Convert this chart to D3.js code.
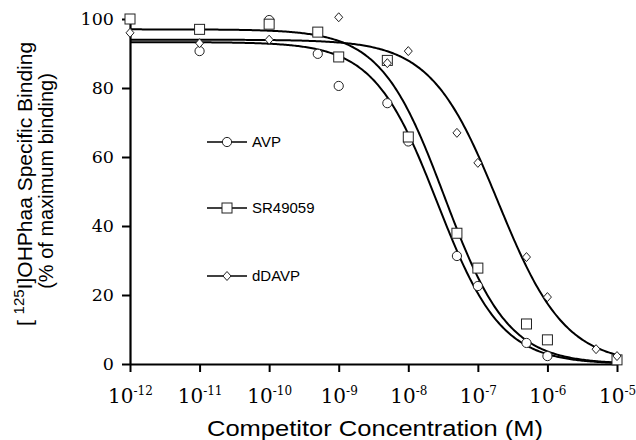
<!DOCTYPE html>
<html>
<head>
<meta charset="utf-8">
<script src="https://cdn.jsdelivr.net/npm/d3@7"></script>
<style>
  body { margin: 0; background: #fff; }
  svg { display: block; }
</style>
</head>
<body>
<svg></svg>
<script>
const width = 636;
const height = 440;
const margin = {top: 19, right: 19, bottom: 76, left: 130};

// competitor concentrations (M) and % of maximum binding
const avpConc = [1e-11, 1e-10, 5e-10, 1e-9, 5e-9, 1e-8, 5e-8, 1e-7, 5e-7, 1e-6];
const avpBinding = [90.7, 99.7, 89.9, 80.6, 75.6, 64.5, 31.3, 22.6, 6.1, 2.3];
const srConc = [1e-12, 1e-11, 1e-10, 5e-10, 1e-9, 5e-9, 1e-8, 5e-8, 1e-7, 5e-7, 1e-6, 1e-5];
const srBinding = [100, 97, 98.5, 96.2, 89, 88, 65.8, 37.9, 27.8, 11.6, 7.0, 1.2];
const ddavpConc = [1e-12, 1e-11, 1e-10, 1e-9, 5e-9, 1e-8, 5e-8, 1e-7, 5e-7, 1e-6, 5e-6, 1e-5];
const ddavpBinding = [96, 93, 94, 100.5, 87.2, 90.7, 67, 58.3, 31, 19.4, 4.3, 2.3];

// fitted competition curves, one per compound: top, bottom, log IC50, hill slope
const seriesNames = ['AVP', 'SR49059', 'dDAVP'];
const fitTop = [93.3, 97, 94];
const fitBottom = [0, 0, 0];
const fitLogIC50 = [-7.58, -7.48, -6.71];
const fitHill = [0.95, 0.95, 0.9];

const xTicks = [1e-12, 1e-11, 1e-10, 1e-9, 1e-8, 1e-7, 1e-6, 1e-5];
const yTicks = [0, 20, 40, 60, 80, 100];

const svg = d3.select('svg')
  .attr('width', width)
  .attr('height', height);

const x = d3.scaleLog()
  .domain([1e-12, 1e-5])
  .range([margin.left, width - margin.right]);

const y = d3.scaleLinear()
  .domain([0, 100])
  .range([height - margin.bottom, margin.top]);

// curves
const curve = i => {
  const pts = d3.range(-12, -4.999, 0.02).map(lx => {
    const v = fitBottom[i] + (fitTop[i] - fitBottom[i]) / (1 + Math.pow(10, (lx - fitLogIC50[i]) * fitHill[i]));
    return [Math.pow(10, lx), v];
  });
  return pts;
};
const line = d3.line().x(d => x(d[0])).y(d => y(d[1]));

svg.append('g').selectAll('path')
  .data([0, 1, 2])
  .enter().append('path')
    .attr('d', i => line(curve(i)))
    .attr('fill', 'none')
    .attr('stroke', '#000')
    .attr('stroke-width', 2);

// axes
const yAxis = svg.append('g')
  .attr('transform', `translate(${margin.left},0)`)
  .call(d3.axisLeft(y).tickValues(yTicks).tickSize(8).tickSizeOuter(0).tickPadding(8));
yAxis.select('.domain').attr('stroke-width', 2.2);
yAxis.selectAll('.tick line').attr('stroke-width', 2);
yAxis.selectAll('.tick text')
  .attr('font-family', '"DejaVu Serif", serif')
  .attr('font-size', 17.5)
  .attr('fill', '#000');

const xAxis = svg.append('g')
  .attr('transform', `translate(0,${height - margin.bottom})`)
  .call(d3.axisBottom(x).tickValues(xTicks).tickSize(8).tickSizeOuter(0).tickFormat(''));
xAxis.select('.domain').attr('stroke-width', 2.2);
xAxis.selectAll('.tick line').attr('stroke-width', 2);
const xLabel = xAxis.selectAll('.tick').append('text')
  .attr('y', 39)
  .attr('fill', '#000')
  .attr('text-anchor', 'middle')
  .attr('font-family', '"DejaVu Serif", serif')
  .attr('font-size', 20);
xLabel.append('tspan').text('10');
xLabel.append('tspan')
  .attr('dy', -8)
  .attr('font-size', 12)
  .text(d => Math.round(Math.log10(d)));

// markers
const diamond = 'M0,-4.5L4,0L0,4.5L-4,0Z';

svg.append('g').selectAll('circle')
  .data(d3.zip(avpConc, avpBinding))
  .enter().append('circle')
    .attr('cx', d => x(d[0]))
    .attr('cy', d => y(d[1]))
    .attr('r', 4.6)
    .attr('fill', '#fff')
    .attr('stroke', '#222')
    .attr('stroke-width', 1);

svg.append('g').selectAll('rect')
  .data(d3.zip(srConc, srBinding))
  .enter().append('rect')
    .attr('x', d => x(d[0]) - 5)
    .attr('y', d => y(d[1]) - 5)
    .attr('width', 10)
    .attr('height', 10)
    .attr('fill', '#fff')
    .attr('stroke', '#222')
    .attr('stroke-width', 1);

svg.append('g').selectAll('path')
  .data(d3.zip(ddavpConc, ddavpBinding))
  .enter().append('path')
    .attr('d', diamond)
    .attr('transform', d => `translate(${x(d[0])},${y(d[1])})`)
    .attr('fill', '#fff')
    .attr('stroke', '#222')
    .attr('stroke-width', 1);

// legend
const legend = svg.append('g')
  .attr('font-family', '"Liberation Sans", Arial, sans-serif')
  .attr('font-size', 15);
const legendY = [142, 208, 276];
seriesNames.forEach((name, i) => {
  const g = legend.append('g').attr('transform', `translate(207,${legendY[i]})`);
  g.append('line').attr('x1', 0).attr('x2', 40).attr('stroke', '#000').attr('stroke-width', 1.6);
  if (i === 0) {
    g.append('circle').attr('cx', 20).attr('r', 4.6).attr('fill', '#fff').attr('stroke', '#222');
  } else if (i === 1) {
    g.append('rect').attr('x', 15).attr('y', -5).attr('width', 10).attr('height', 10)
      .attr('fill', '#fff').attr('stroke', '#222');
  } else {
    g.append('path').attr('d', diamond).attr('transform', 'translate(20,0)')
      .attr('fill', '#fff').attr('stroke', '#222');
  }
  g.append('text').attr('x', 45).attr('dy', '0.35em').text(name);
});

// axis titles
svg.append('text')
  .attr('x', 375)
  .attr('y', 436)
  .attr('text-anchor', 'middle')
  .attr('font-family', '"Liberation Sans", Arial, sans-serif')
  .attr('font-size', 22)
  .attr('transform', 'translate(375,0) scale(1.16,1) translate(-375,0)')
  .text('Competitor Concentration (M)');

const yTitle = svg.append('text')
  .attr('transform', 'translate(32,184) rotate(-90)')
  .attr('text-anchor', 'middle')
  .attr('font-family', '"Liberation Sans", Arial, sans-serif')
  .attr('font-size', 21);
yTitle.append('tspan').text('[ ');
yTitle.append('tspan').attr('dy', -8).attr('font-size', 15).text('125');
yTitle.append('tspan').attr('dy', 8).text('I]OHPhaa Specific Binding');

svg.append('text')
  .attr('transform', 'translate(53,181) rotate(-90)')
  .attr('text-anchor', 'middle')
  .attr('font-family', '"Liberation Sans", Arial, sans-serif')
  .attr('font-size', 20)
  .text('(% of maximum binding)');
</script>
</body>
</html>
